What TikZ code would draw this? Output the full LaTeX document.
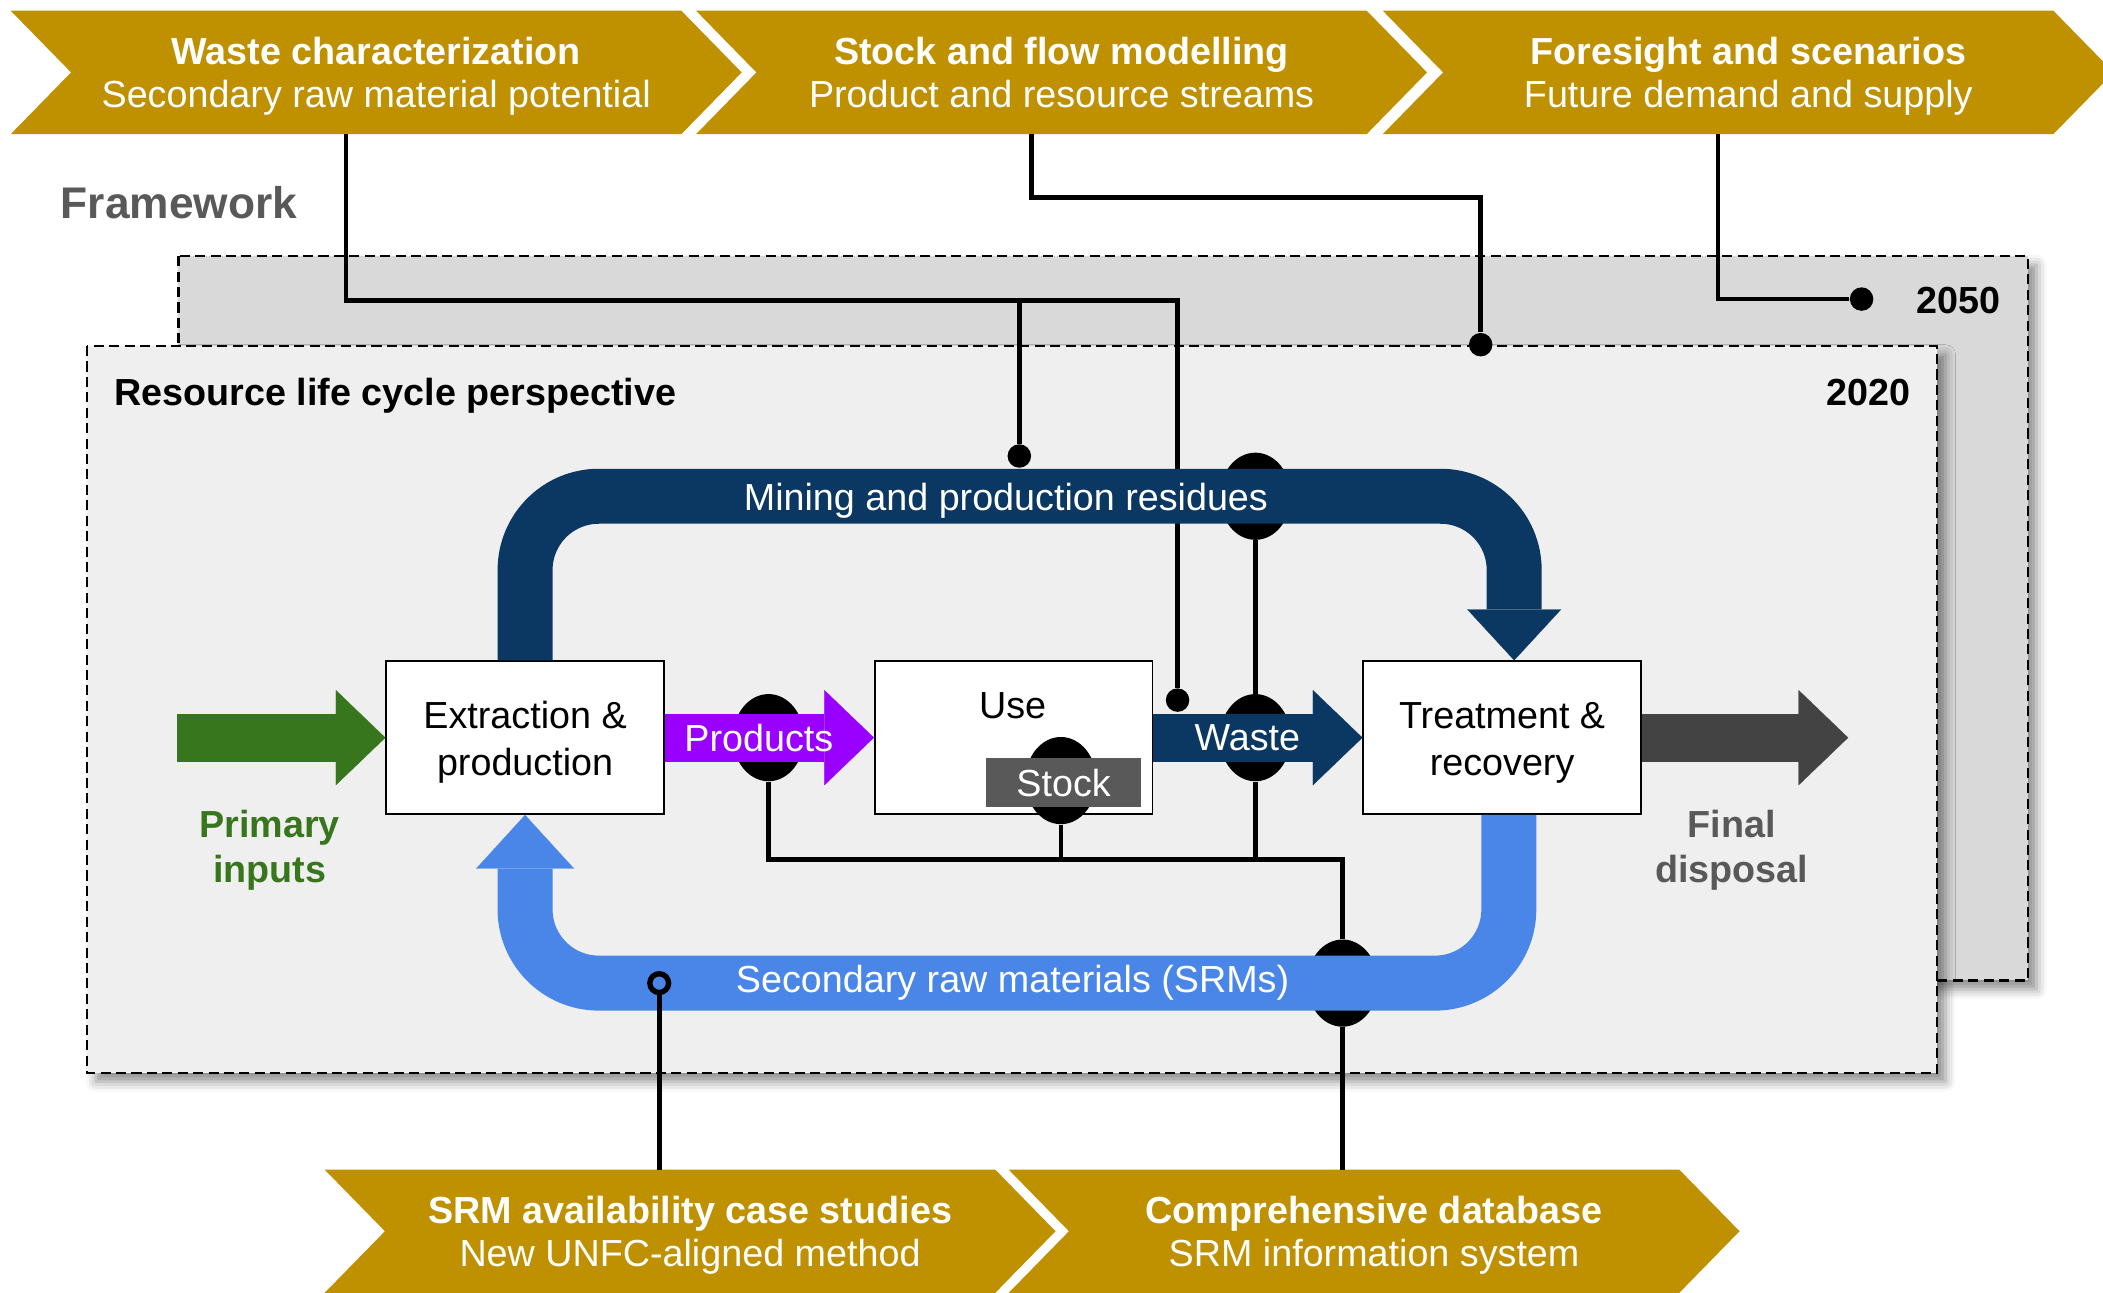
\documentclass[tikz,border=0pt]{standalone}
\usepackage{fontspec}
\setmainfont{Liberation Sans}
\usetikzlibrary{arrows.meta, positioning, shapes.geometric, shadows.blur}
\definecolor{gold}{HTML}{BF9000}
\definecolor{navyflow}{HTML}{0B3862}
\definecolor{srmblue}{HTML}{4A86E8}
\definecolor{prodpurple}{HTML}{9900FF}
\definecolor{primgreen}{HTML}{38761D}
\definecolor{dispgray}{HTML}{434343}
\definecolor{midgray}{HTML}{595959}
\definecolor{panelback}{HTML}{D9D9D9}
\definecolor{panelfront}{HTML}{EFEFEF}

\tikzset{
  chevtxt/.style={text=white, align=center, font=\fontsize{16}{18.2}\selectfont},
  panel/.style={draw=black, line width=0.35mm, dash pattern=on 1.5mm off 0.8mm,
    blur shadow={shadow xshift=1.3mm, shadow yshift=-1.3mm, shadow blur radius=1.5mm, shadow opacity=45}},
  procbox/.style={draw=black, fill=white, line width=0.7pt, minimum width=41.4mm, minimum height=22.8mm,
    align=center, font=\fontsize{16}{19.9}\selectfont},
  flow/.style={line width=7.2mm, -{Triangle[length=7.4mm, width=14.2mm, line width=0.1pt]}},
  band/.style={line width=8.2mm, rounded corners=11mm},
  flowtxt/.style={text=white, font=\fontsize{16}{19}\selectfont},
  blob/.style={ellipse, fill=black, inner sep=0pt, minimum width=10.6mm, minimum height=13mm},
  dot/.style={circle, fill=black, inner sep=0pt, minimum size=3.5mm},
  ring/.style={circle, draw=black, fill=srmblue, line width=0.8mm, inner sep=0pt, minimum size=2.8mm},
  conn/.style={draw=black, line width=0.7mm},
  lbl/.style={font=\bfseries\fontsize{16}{18.8}\selectfont, align=center, inner sep=0pt}
}

\begin{document}
\begin{tikzpicture}[x=0.2mm, y=-0.2mm, font=\fontsize{16}{19}\selectfont]
  \useasboundingbox (0,0) rectangle (1568,964);

  % Rahmen 2050 und 2020
  \draw[panel, fill=panelback] (133,191) rectangle (1512,731);
  \draw[panel, fill=panelfront] (65,258) rectangle (1444,800);
  \node[lbl, anchor=east] (y2050) at (1492,224) {2050};
  \node[lbl, anchor=east] (y2020) at (1425,293) {2020};
  \node[lbl, anchor=west] (rlc) at (85,295) {Resource life cycle perspective};
  \node[lbl, anchor=west, text=midgray, font=\bfseries\fontsize{18.8}{22}\selectfont] (fw) at (45,151) {Framework};

  % Pfeilbloecke oben und unten
  \foreach \x/\y/\nm/\ttl/\sub in {8/8/wc/Waste characterization/Secondary raw material potential,
      519/8/sf/Stock and flow modelling/Product and resource streams,
      1031/8/fs/Foresight and scenarios/Future demand and supply,
      242/872/sc/SRM availability case studies/New UNFC-aligned method,
      752/872/db/Comprehensive database/SRM information system} {
    \fill[gold] (\x,\y) -- ++(500,0) -- ++(45,46) -- ++(-45,46) -- ++(-500,0) -- ++(45,-46) -- cycle;
    \node[chevtxt] (\nm) at (\x+272.5,\y+49) {\textbf{\ttl}\\\sub\vphantom{y}};
    \coordinate (\nm-t) at (\x+250,\y);
    \coordinate (\nm-b) at (\x+250,\y+92);
  }

  % Prozesse
  \node[procbox] (ext) at (391.5,550) {\rule{0pt}{5.5mm}Extraction \&\\production};
  \node[procbox, right=31.2mm of ext] (use) {};
  \node[procbox, right=31.2mm of use] (trt) {\rule{0pt}{5.5mm}Treatment \&\\recovery};
  \node (uselbl) at (755,526) {Use};

  % Verbindungen zu den Arbeitspaketen
  \node[dot] (duse) at (878,522) {};
  \node[dot] (dres) at (760,340) {};
  \node[dot] (dframe) at (1104,257) {};
  \node[dot] (d2050) at (1388,223) {};
  \coordinate (k1) at (878,224);
  \draw[conn] (wc-b) |- (k1) -- (duse);
  \draw[conn] (dres |- k1) -- (dres);
  \draw[conn] (sf-b) -- ++(0,47) -| (dframe);
  \draw[conn] (fs-b) |- (d2050);

  % Messpunkte auf den Fluessen
  \node[blob] (bprod) at (573,550) {};
  \node[blob] (bwaste) at (936,550) {};
  \node[blob] (bmine) at (936,370) {};
  \node[blob] (bsrm) at (1001,733) {};
  \node[blob] (bstock) at (791,582) {};
  \coordinate (jct) at (1001,641);
  \draw[conn] (bprod.south) |- (jct) -- (bsrm.north);
  \draw[conn] (bstock.south) -- (bstock.south |- jct);
  \draw[conn] (bwaste.south) -- (bwaste.south |- jct);
  \draw[conn] (bmine.south) -- (bwaste.north);
  \draw[conn] (bsrm.south) -- (bsrm.south |- db-t);
  \node[fill=midgray, text=white, minimum width=23.2mm, minimum height=7.4mm, inner sep=0pt] (stock) at (793,583.5) {Stock};

  % Kreislauf
  \coordinate (mr) at (750,370);
  \coordinate (sr) at (755,733);
  \draw[band, navyflow, -{Triangle[length=7.6mm, width=14mm, line width=0.1pt]}] (ext.north) |- (mr) -| ([xshift=1.8mm]trt.north);
  \draw[band, srmblue, -{Triangle[length=8mm, width=14.6mm, line width=0.1pt]}] ([xshift=1mm]trt.south) |- (sr) -| (ext.south);
  \node[flowtxt] (minetxt) at (750,373) {Mining and production residues};
  \node[flowtxt] (srmtxt) at (sr) {Secondary raw materials (SRMs)};

  \coordinate (pin) at (132,550);
  \coordinate (fdis) at (1378,550);
  \draw[flow, primgreen] (pin) -- (ext.west);
  \draw[flow, prodpurple] (ext.east) -- node[flowtxt, pos=.45] (prodtxt) {Products} (use.west);
  \draw[flow, navyflow] (use.east) -- node[flowtxt, pos=.45] (wastetxt) {Waste} (trt.west);
  \draw[flow, dispgray] (trt.east) -- (fdis);
  \node[lbl, text=primgreen] (pinlbl) at (201,634) {Primary\\inputs};
  \node[lbl, text=midgray] (fdlbl) at (1291,634) {Final\\disposal};

  \node[ring] (rsrm) at (491.5,733) {};
  \draw[conn] (rsrm.south) -- (rsrm.south |- sc-t);
\end{tikzpicture}
\end{document}
